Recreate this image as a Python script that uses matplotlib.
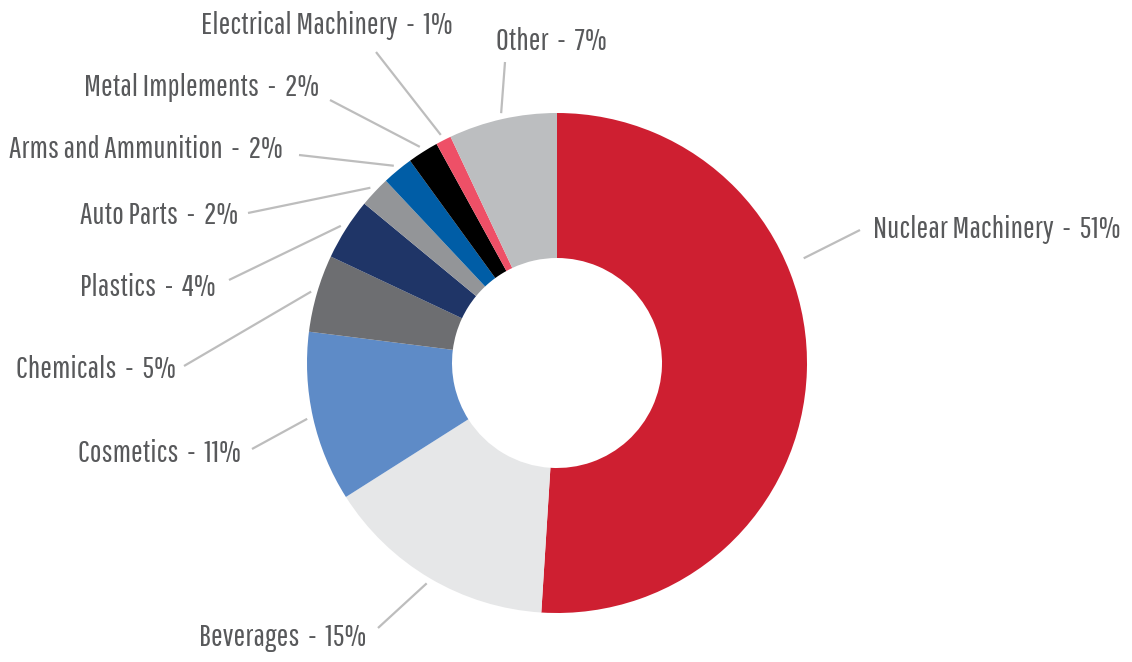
import matplotlib.pyplot as plt
import numpy as np

# data
categories = ["Nuclear Machinery", "Beverages", "Cosmetics", "Chemicals", "Plastics",
              "Auto Parts", "Arms and Ammunition", "Metal Implements",
              "Electrical Machinery", "Other"]
shares = [51, 15, 11, 5, 4, 2, 2, 2, 1, 7]
colors = ["#CE1F31", "#E6E7E8", "#5E8BC7", "#6D6E71", "#1F3567",
          "#939598", "#005DA6", "#000000", "#EE5067", "#BCBEC0"]

# label layout in pixel coords (x, y, ha) and the outer end of each leader line
label_pos = [(873, 229, "left"), (366, 638, "right"), (241, 453, "right"),
             (176, 369, "right"), (216, 287, "right"), (238, 215, "right"),
             (283, 150, "right"), (319, 87, "right"), (453, 25, "right"),
             (607, 42, "right")]
leader_end = [(860, 230), (378, 628), (252, 449), (184, 366), (229, 280),
              (248, 213), (299, 155), (330, 100), (376, 52), (505, 62)]

W, H = 1132, 662
CX, CY, R = 557, 363, 250

FONT = ["Pathway Gothic One", "Oswald", "Barlow Condensed", "DejaVu Sans"]
TEXT = "#58595B"
LINE = "#BDBDBD"

fig = plt.figure(figsize=(W / 100, H / 100), dpi=100)
ax = fig.add_axes([0, 0, 1, 1])

# y axis is flipped (pixel coords), so counterclock=True draws clockwise on screen
wedges, _ = ax.pie(shares, colors=colors, startangle=-90, counterclock=True,
                   center=(CX, CY), radius=R,
                   wedgeprops=dict(width=R * 0.58, linewidth=0))
ax.set_xlim(0, W)
ax.set_ylim(H, 0)
ax.set_aspect("equal")
ax.axis("off")

texts = []
for i, w in enumerate(wedges):
    mid = np.deg2rad((w.theta1 + w.theta2) / 2)
    r0 = R + 6
    if i == 0:
        # the big slice's leader leaves from higher up the arc
        mid = np.deg2rad(-23)
        r0 = R + 18
    x0 = CX + r0 * np.cos(mid)
    y0 = CY + r0 * np.sin(mid)
    x1, y1 = leader_end[i]
    ax.plot([x0, x1], [y0, y1], color=LINE, lw=1.6, solid_capstyle="butt")
    lx, ly, ha = label_pos[i]
    t = ax.text(lx, ly, f"{categories[i]}  -  {shares[i]}%", ha=ha, va="center",
                fontsize=24, color=TEXT, family=FONT)
    texts.append(t)

# size the labels so the widest one spans about 247 px like the original
rend = fig.canvas.get_renderer()
wpx = texts[0].get_window_extent(rend).width
size = min(28, 24 * 247 / wpx)
for t in texts:
    t.set_fontsize(size)

fig.savefig("out.png", dpi=100)
